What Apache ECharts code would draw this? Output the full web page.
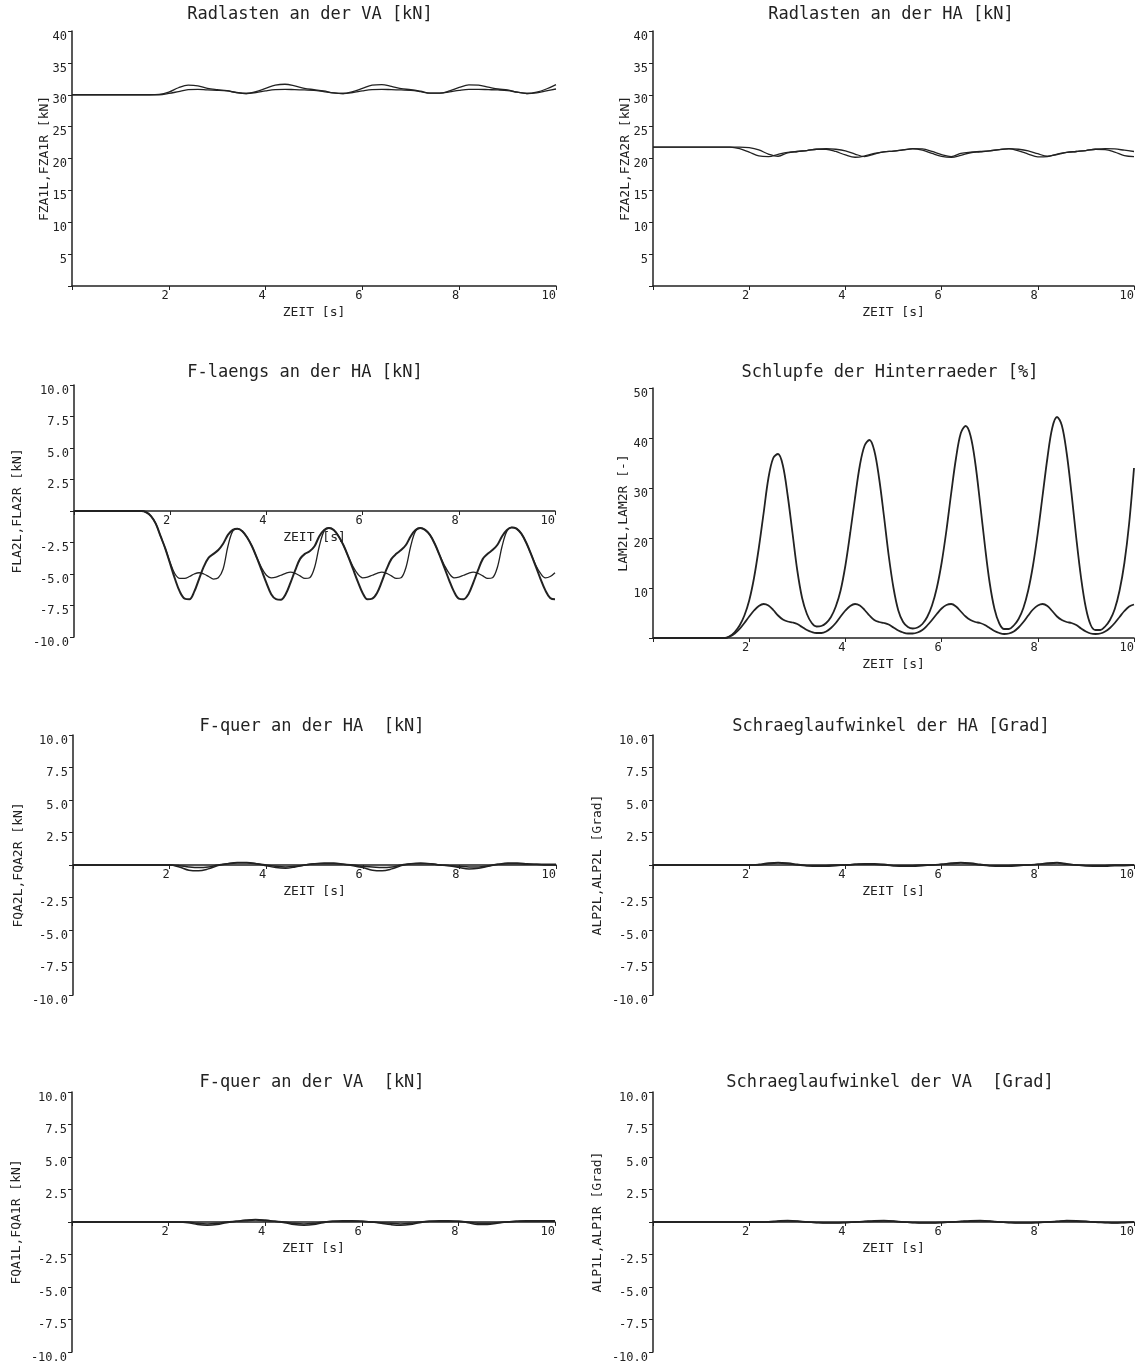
<!DOCTYPE html>
<html><head><meta charset="utf-8">
<script src="https://cdn.jsdelivr.net/npm/echarts@6/dist/echarts.min.js"></script>
<style>html,body{margin:0;padding:0;background:#fff}#c{width:1141px;height:1366px}</style>
</head><body><div id="c"></div>
<script>
// ---- time bases (s) ----
const T1 = [0,0.1,0.2,0.3,0.4,0.5,0.6,0.7,0.8,0.9,1,1.1,1.2,1.3,1.4,1.5,1.6,1.7,1.8,1.9,2,2.1,2.2,2.3,2.4,2.5,2.6,2.7,2.8,2.9,3,3.1,3.2,3.3,3.4,3.5,3.6,3.7,3.8,3.9,4,4.1,4.2,4.3,4.4,4.5,4.6,4.7,4.8,4.9,5,5.1,5.2,5.3,5.4,5.5,5.6,5.7,5.8,5.9,6,6.1,6.2,6.3,6.4,6.5,6.6,6.7,6.8,6.9,7,7.1,7.2,7.3,7.4,7.5,7.6,7.7,7.8,7.9,8,8.1,8.2,8.3,8.4,8.5,8.6,8.7,8.8,8.9,9,9.1,9.2,9.3,9.4,9.5,9.6,9.7,9.8,9.9,10];
const T2 = [0,0.2,0.4,0.6,0.8,1,1.2,1.4,1.6,1.8,2,2.2,2.4,2.6,2.8,3,3.2,3.4,3.6,3.8,4,4.2,4.4,4.6,4.8,5,5.2,5.4,5.6,5.8,6,6.2,6.4,6.6,6.8,7,7.2,7.4,7.6,7.8,8,8.2,8.4,8.6,8.8,9,9.2,9.4,9.6,9.8,10];

// ---- tick label sets ----
const xTicks = [2,4,6,8,10];
const yTicksLoad = [5,10,15,20,25,30,35,40];
const yTicksSym = [-10,-7.5,-5,-2.5,2.5,5,7.5,10];
const yTicksSlip = [10,20,30,40,50];

// ---- Radlasten an der VA (T2) ----
const fza1l = [30,30,30,30,30,30,30,30,30,30.05,30.4,31.1,31.5,31.4,31.0,30.8,30.65,30.35,30.2,30.5,31.0,31.5,31.65,31.4,31.0,30.8,30.6,30.3,30.2,30.5,31.0,31.5,31.6,31.3,30.95,30.8,30.55,30.25,30.25,30.6,31.15,31.55,31.5,31.2,30.9,30.75,30.4,30.2,30.4,30.9,31.6];
const fza1r = [30,30,30,30,30,30,30,30,30,30,30.2,30.5,30.8,30.85,30.75,30.7,30.6,30.35,30.2,30.35,30.6,30.8,30.85,30.8,30.75,30.7,30.5,30.3,30.2,30.35,30.6,30.8,30.85,30.8,30.75,30.7,30.5,30.25,30.25,30.45,30.7,30.85,30.85,30.8,30.75,30.65,30.4,30.2,30.3,30.6,30.9];

// ---- Radlasten an der HA (T2) ----
const fza2l = [21.8,21.8,21.8,21.8,21.8,21.8,21.8,21.8,21.8,21.55,21.0,20.4,20.3,20.65,20.95,21.1,21.25,21.45,21.45,21.1,20.55,20.2,20.4,20.8,21.05,21.15,21.35,21.5,21.3,20.8,20.35,20.2,20.5,20.9,21.05,21.2,21.4,21.5,21.2,20.7,20.25,20.3,20.7,20.95,21.1,21.25,21.45,21.4,21.0,20.45,20.3];
const fza2r = [21.8,21.8,21.8,21.8,21.8,21.8,21.8,21.8,21.8,21.8,21.7,21.35,20.7,20.35,20.9,21.1,21.25,21.45,21.55,21.45,21.2,20.7,20.3,20.7,21.05,21.15,21.35,21.55,21.5,21.1,20.6,20.3,20.8,21.0,21.1,21.2,21.4,21.55,21.45,21.2,20.75,20.35,20.6,20.95,21.1,21.25,21.45,21.55,21.5,21.3,21.1];

// ---- F-laengs an der HA (T1) ----
const fla2l = [0,0,0,0,0,0,0,0,0,0,0,0,0,0,0,-0.1,-0.4,-1.0,-2.0,-3.0,-4.2,-5.4,-6.4,-6.95,-7.0,-6.4,-5.4,-4.4,-3.7,-3.4,-3.1,-2.6,-1.9,-1.5,-1.4,-1.6,-2.1,-2.8,-3.7,-4.7,-5.7,-6.6,-7.0,-7.05,-6.6,-5.7,-4.7,-3.8,-3.4,-3.2,-2.8,-2.0,-1.5,-1.35,-1.5,-2.0,-2.7,-3.6,-4.6,-5.6,-6.5,-7.0,-6.95,-6.5,-5.6,-4.6,-3.8,-3.4,-3.1,-2.7,-2.0,-1.5,-1.35,-1.5,-1.9,-2.6,-3.5,-4.5,-5.5,-6.4,-6.95,-7.0,-6.6,-5.7,-4.7,-3.8,-3.4,-3.1,-2.7,-2.0,-1.5,-1.3,-1.4,-1.8,-2.5,-3.4,-4.4,-5.4,-6.3,-6.9,-7.0];
const fla2r = [0,0,0,0,0,0,0,0,0,0,0,0,0,0,0,-0.1,-0.4,-1.0,-2.0,-3.0,-4.1,-5.0,-5.35,-5.35,-5.2,-5.0,-4.9,-5.0,-5.2,-5.4,-5.3,-4.6,-2.8,-1.6,-1.4,-1.6,-2.1,-2.8,-3.7,-4.5,-5.1,-5.3,-5.25,-5.1,-4.95,-4.85,-4.95,-5.15,-5.35,-5.3,-4.5,-2.8,-1.6,-1.35,-1.5,-2.0,-2.7,-3.6,-4.4,-5.0,-5.3,-5.25,-5.1,-4.95,-4.85,-4.95,-5.15,-5.35,-5.3,-4.5,-2.8,-1.6,-1.35,-1.5,-1.9,-2.6,-3.5,-4.3,-4.95,-5.3,-5.25,-5.1,-4.95,-4.85,-4.95,-5.15,-5.35,-5.3,-4.5,-2.8,-1.6,-1.3,-1.4,-1.8,-2.5,-3.4,-4.3,-4.95,-5.3,-5.2,-4.9];

// ---- Schlupfe der Hinterraeder (T1) ----
const lam2l = [0,0,0,0,0,0,0,0,0,0,0,0,0,0,0,0,0.4,1.2,2.5,4.5,7.5,12,18,25,32,36,36.8,34.5,28.5,21,13.5,8,4.8,3.0,2.3,2.4,3.0,4.2,6.3,9.5,14.5,21,28,34.5,38.5,39.6,37.5,32,24.5,16.5,10,5.5,3.2,2.2,1.9,2.1,2.8,4.2,6.5,10,15,21.5,29,36,41,42.4,40.5,35,27,18.5,11,5.8,2.9,1.8,1.8,2.5,3.8,6,9.5,14.5,21,28.5,36,42,44.2,42.5,37,29,20,12,6,2.6,1.6,1.6,2.3,3.6,5.8,9.5,15,23,34];
const lam2r = [0,0,0,0,0,0,0,0,0,0,0,0,0,0,0,0,0.3,0.9,1.8,3.0,4.3,5.5,6.4,6.8,6.5,5.6,4.5,3.7,3.3,3.1,2.8,2.2,1.6,1.2,1.0,1.0,1.3,2.0,3.0,4.3,5.5,6.4,6.8,6.5,5.6,4.5,3.6,3.2,3.0,2.7,2.1,1.5,1.1,0.9,0.9,1.1,1.6,2.5,3.6,4.8,5.9,6.6,6.8,6.3,5.3,4.3,3.6,3.2,3.0,2.6,2.0,1.4,1.0,0.8,0.9,1.3,2.1,3.2,4.5,5.7,6.5,6.8,6.4,5.4,4.3,3.6,3.2,3.0,2.6,1.9,1.3,0.9,0.8,0.9,1.3,2.0,3.0,4.2,5.4,6.3,6.7];

// ---- F-quer an der HA (T2) ----
const fqa2l = [0,0,0,0,0,0,0,0,0,0,0,-0.15,-0.4,-0.45,-0.3,-0.05,0.1,0.2,0.2,0.1,-0.05,-0.2,-0.25,-0.15,0.0,0.1,0.15,0.15,0.05,-0.05,-0.2,-0.4,-0.45,-0.3,-0.05,0.1,0.15,0.1,0.0,-0.05,-0.2,-0.3,-0.25,-0.1,0.05,0.15,0.15,0.1,0.05,0.05,0.05];
const fqa2r = [0,0,0,0,0,0,0,0,0,0,0,-0.05,-0.15,-0.2,-0.15,0.0,0.1,0.15,0.15,0.1,0.0,-0.1,-0.15,-0.1,0.0,0.1,0.1,0.1,0.05,0.0,-0.1,-0.15,-0.2,-0.15,0.0,0.1,0.1,0.1,0.0,-0.05,-0.1,-0.15,-0.15,-0.05,0.05,0.1,0.1,0.05,0.05,0.0,0.0];

// ---- Schraeglaufwinkel der HA (T2) ----
const alp2l = [0,0,0,0,0,0,0,0,0,0,0,0.05,0.15,0.2,0.15,0.05,-0.05,-0.1,-0.1,-0.05,0.0,0.05,0.1,0.1,0.05,-0.05,-0.1,-0.1,-0.05,0.0,0.05,0.15,0.2,0.15,0.05,-0.05,-0.1,-0.1,-0.05,0.0,0.05,0.15,0.2,0.1,0.0,-0.05,-0.1,-0.1,-0.05,-0.05,0.0];
const alp2r = [0,0,0,0,0,0,0,0,0,0,0,0.0,0.1,0.15,0.1,0.0,-0.05,-0.05,-0.05,0.0,0.0,0.05,0.05,0.05,0.0,-0.05,-0.05,-0.05,0.0,0.0,0.05,0.1,0.15,0.1,0.0,-0.05,-0.05,-0.05,0.0,0.0,0.05,0.1,0.15,0.05,0.0,-0.05,-0.05,-0.05,0.0,0.0,0.0];

// ---- F-quer an der VA (T2) ----
const fqa1l = [0,0,0,0,0,0,0,0,0,0,0,0,-0.05,-0.2,-0.25,-0.2,-0.05,0.05,0.15,0.2,0.15,0.05,-0.05,-0.2,-0.25,-0.2,-0.05,0.05,0.1,0.1,0.05,0.0,-0.1,-0.2,-0.25,-0.2,-0.05,0.05,0.1,0.1,0.05,-0.05,-0.2,-0.2,-0.1,0.0,0.05,0.1,0.1,0.1,0.1];
const fqa1r = [0,0,0,0,0,0,0,0,0,0,0,0,0.0,-0.1,-0.15,-0.1,0.0,0.05,0.1,0.15,0.1,0.05,0.0,-0.1,-0.15,-0.1,0.0,0.05,0.05,0.05,0.05,0.0,-0.05,-0.1,-0.15,-0.1,0.0,0.05,0.05,0.05,0.05,0.0,-0.1,-0.1,-0.05,0.0,0.05,0.05,0.05,0.05,0.05];

// ---- Schraeglaufwinkel der VA (T2) ----
const alp1l = [0,0,0,0,0,0,0,0,0,0,0,0,0.02,0.08,0.12,0.08,0.0,-0.05,-0.08,-0.08,-0.05,0.0,0.05,0.1,0.12,0.08,0.0,-0.05,-0.08,-0.08,-0.05,0.0,0.05,0.1,0.12,0.08,0.0,-0.05,-0.08,-0.08,-0.05,0.0,0.05,0.12,0.1,0.05,-0.02,-0.05,-0.08,-0.05,-0.02];
const alp1r = [0,0,0,0,0,0,0,0,0,0,0,0,0.0,0.05,0.08,0.05,0.0,-0.03,-0.05,-0.05,-0.03,0.0,0.03,0.06,0.08,0.05,0.0,-0.03,-0.05,-0.05,-0.03,0.0,0.03,0.06,0.08,0.05,0.0,-0.03,-0.05,-0.05,-0.03,0.0,0.03,0.08,0.06,0.03,0.0,-0.03,-0.05,-0.03,0.0];

// ---- panel layout ----
const panels = [
  {title:'Radlasten an der VA [kN]', tx:310, ty:15, yName:'FZA1L,FZA1R [kN]', g:[72,31,484,255], y:[0,40,5], yl:yTicksLoad, dec:0, gap:21, mid:false, t:T2, s:[fza1l,fza1r], w:[1.3,1.3]},
  {title:'Radlasten an der HA [kN]', tx:891, ty:15, yName:'FZA2L,FZA2R [kN]', g:[653,31,481,255], y:[0,40,5], yl:yTicksLoad, dec:0, gap:21, mid:false, t:T2, s:[fza2l,fza2r], w:[1.3,1.3]},
  {title:'F-laengs an der HA [kN]', tx:305, ty:373, yName:'FLA2L,FLA2R [kN]', g:[74,385,481,252], y:[-10,10,2.5], yl:yTicksSym, dec:1, gap:50, mid:true, t:T1, s:[fla2l,fla2r], w:[2,1.3]},
  {title:'Schlupfe der Hinterraeder [%]', tx:890, ty:373, yName:'LAM2L,LAM2R [-]', g:[653,388,481,250], y:[0,50,10], yl:yTicksSlip, dec:0, gap:23, mid:false, t:T1, s:[lam2l,lam2r], w:[1.8,1.8]},
  {title:'F-quer an der HA  [kN]', tx:312, ty:727, yName:'FQA2L,FQA2R [kN]', g:[73,735,483,260], y:[-10,10,2.5], yl:yTicksSym, dec:1, gap:48, mid:true, t:T2, s:[fqa2l,fqa2r], w:[1.5,1.5]},
  {title:'Schraeglaufwinkel der HA [Grad]', tx:891, ty:727, yName:'ALP2L,ALP2L [Grad]', g:[653,735,481,260], y:[-10,10,2.5], yl:yTicksSym, dec:1, gap:49, mid:true, t:T2, s:[alp2l,alp2r], w:[1.5,1.5]},
  {title:'F-quer an der VA  [kN]', tx:312, ty:1083, yName:'FQA1L,FQA1R [kN]', g:[72,1092,483,260], y:[-10,10,2.5], yl:yTicksSym, dec:1, gap:49, mid:true, t:T2, s:[fqa1l,fqa1r], w:[1.5,1.5]},
  {title:'Schraeglaufwinkel der VA  [Grad]', tx:890, ty:1083, yName:'ALP1L,ALP1R [Grad]', g:[653,1092,481,260], y:[-10,10,2.5], yl:yTicksSym, dec:1, gap:49, mid:true, t:T2, s:[alp1l,alp1r], w:[1.5,1.5]}
];

const INK = '#222';
const FONT = "'DejaVu Sans Mono', 'Liberation Mono', monospace";
const option = {animation:false, backgroundColor:'#fff', title:[], grid:[], xAxis:[], yAxis:[], series:[]};

panels.forEach((p, i) => {
  option.title.push({text:p.title, left:p.tx, top:p.ty - 9, textAlign:'center', textVerticalAlign:'top', padding:0,
    textStyle:{fontFamily:FONT, fontSize:17, fontWeight:'normal', color:INK}});
  option.grid.push({left:p.g[0], top:p.g[1], width:p.g[2], height:p.g[3], containLabel:false, outerBoundsMode:'none'});
  option.xAxis.push({type:'value', gridIndex:i, min:0, max:10, interval:2, position:'bottom',
    offset: p.mid ? -p.g[3] / 2 : 0,
    name:'ZEIT [s]', nameLocation:'middle', nameGap:20, nameMoveOverlap:false,
    nameTextStyle:{fontFamily:FONT, fontSize:13, color:INK},
    axisLine:{show:true, onZero:false, lineStyle:{color:INK, width:1.5}},
    axisTick:{show:true, length:4, lineStyle:{color:INK, width:1}},
    splitLine:{show:false},
    axisLabel:{fontFamily:FONT, fontSize:12, color:INK, align:'right', verticalAlign:'top', margin:4,
      formatter: v => xTicks.indexOf(v) >= 0 ? String(v) : ''}});
  option.yAxis.push({type:'value', gridIndex:i, min:p.y[0], max:p.y[1], interval:p.y[2],
    name:p.yName, nameLocation:'middle', nameGap:p.gap, nameMoveOverlap:false,
    nameTextStyle:{fontFamily:FONT, fontSize:13, color:INK},
    axisLine:{show:true, onZero:false, lineStyle:{color:INK, width:1.5}},
    axisTick:{show:true, length:4, lineStyle:{color:INK, width:1}},
    splitLine:{show:false},
    axisLabel:{fontFamily:FONT, fontSize:12, color:INK, align:'right', verticalAlign:'top', margin:5, lineHeight:11,
      formatter: v => p.yl.indexOf(v) >= 0 ? v.toFixed(p.dec) : ''}});
  p.s.forEach((arr, k) => {
    option.series.push({type:'line', xAxisIndex:i, yAxisIndex:i, showSymbol:false, smooth:0.35,
      data: p.t.map((t, j) => [t, arr[j]]),
      lineStyle:{color:INK, width:p.w[k]}, silent:true});
  });
});

const chart = echarts.init(document.getElementById('c'), null, {renderer:'canvas'});
chart.setOption(option);
</script>
</body></html>
